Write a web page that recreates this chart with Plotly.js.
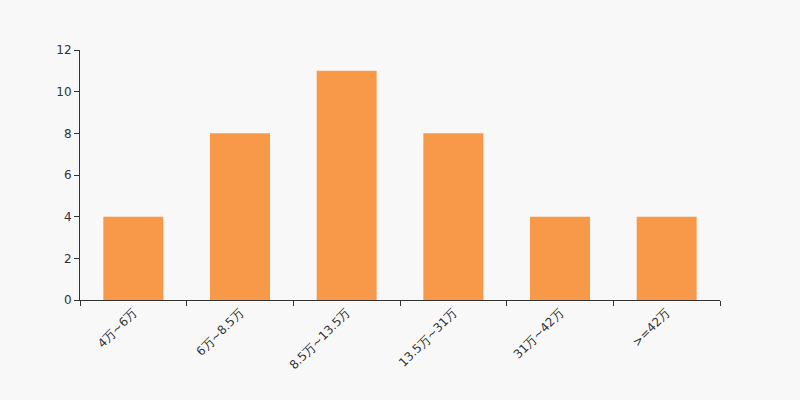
<!DOCTYPE html>
<html>
<head>
<meta charset="utf-8">
<script src="https://cdn.plot.ly/plotly-3.0.1.min.js"></script>
<style>html,body{margin:0;padding:0;background:#f8f8f8;}#chart{width:800px;height:400px;}</style>
</head>
<body>
<div id="chart"></div>
<script>
const categories = ["4万~6万", "6万~8.5万", "8.5万~13.5万", "13.5万~31万", "31万~42万", ">=42万"];
const values = [4, 8, 11, 8, 4, 4];
const yTicks = [0, 2, 4, 6, 8, 10, 12];

const trace = {
  type: "bar",
  x: categories,
  y: values,
  marker: {color: "#f8994a"},
  hoverinfo: "x+y"
};

const layout = {
  width: 800,
  height: 400,
  paper_bgcolor: "#f8f8f8",
  plot_bgcolor: "#f8f8f8",
  margin: {l: 80, r: 80, t: 50, b: 100},
  bargap: 0.4375,
  showlegend: false,
  font: {family: "DejaVu Sans, sans-serif", size: 12, color: "#333"},
  xaxis: {
    type: "category",
    showline: true,
    linecolor: "#333",
    linewidth: 1,
    ticks: "outside",
    tickson: "boundaries",
    ticklen: 5,
    tickcolor: "#333",
    tickangle: -45,
    showgrid: false,
    zeroline: false,
    tickfont: {size: 12, color: "#333"}
  },
  yaxis: {
    range: [0, 12],
    tickvals: yTicks,
    showline: true,
    linecolor: "#333",
    linewidth: 1,
    ticks: "outside",
    ticklen: 5,
    tickcolor: "#333",
    showgrid: false,
    zeroline: false,
    tickfont: {size: 12, color: "#333"}
  }
};

Plotly.newPlot("chart", [trace], layout, {displayModeBar: false, staticPlot: true});
</script>
</body>
</html>
